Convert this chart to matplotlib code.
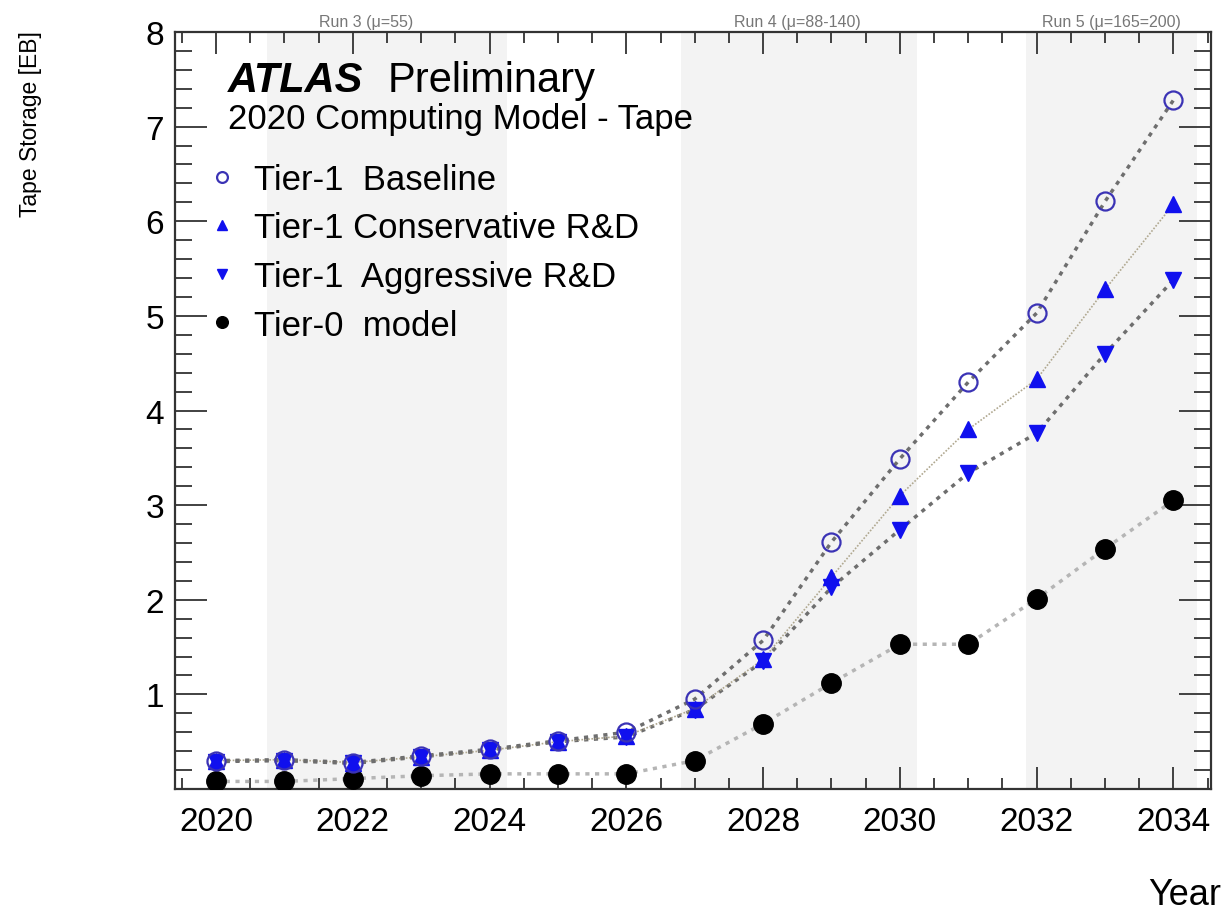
import matplotlib
matplotlib.use("Agg")
import matplotlib.pyplot as plt
from matplotlib.ticker import MultipleLocator

plt.rcParams['font.family'] = ['Liberation Sans', 'DejaVu Sans']

years = list(range(2020, 2035))
baseline = [0.30, 0.31, 0.28, 0.35, 0.42, 0.51, 0.60, 0.95, 1.57, 2.61, 3.49, 4.30, 5.03, 6.21, 7.28]
conservative = [0.30, 0.31, 0.28, 0.34, 0.41, 0.50, 0.56, 0.85, 1.37, 2.24, 3.10, 3.80, 4.33, 5.28, 6.18]
aggressive = [0.29, 0.30, 0.27, 0.34, 0.41, 0.50, 0.55, 0.84, 1.35, 2.13, 2.74, 3.34, 3.76, 4.60, 5.38]
tier0 = [0.08, 0.08, 0.11, 0.14, 0.16, 0.16, 0.16, 0.30, 0.69, 1.12, 1.53, 1.53, 2.01, 2.54, 3.05]

# run periods (shaded) and their labels
run_bands = [(2020.75, 2024.25), (2026.8, 2030.25), (2031.85, 2034.35)]
run_labels = ["Run 3 (\u03bc=55)", "Run 4 (\u03bc=88-140)", "Run 5 (\u03bc=165=200)"]
run_label_x = [2022.2, 2028.5, 2033.1]

fig = plt.figure(figsize=(12.27, 9.2), dpi=100)
ax = fig.add_axes([0.1426, 0.1413, 0.8444, 0.8228])

for (a, b) in run_bands:
    ax.axvspan(a, b, color='#f3f3f3', zorder=0, lw=0)

ax.plot(years, tier0, ls=(0, (1.2, 1.6)), color='#b5b5b5', lw=2.5, zorder=2)
ax.plot(years, aggressive, ls=(0, (1.2, 1.6)), color='#6e6e6e', lw=2.5, zorder=2)
ax.plot(years, conservative, ls=(0, (1, 1)), color='#b0a890', lw=1.2, zorder=2)
ax.plot(years, baseline, ls=(0, (1.2, 1.6)), color='#6e6e6e', lw=2.5, zorder=2)

ax.plot(years, tier0, 'o', color='black', ms=14, ls='none', zorder=3, label='Tier-0  model')
ax.plot(years, aggressive, 'v', color='#1010ee', ms=12, ls='none', zorder=4, label='Tier-1  Aggressive R&D')
ax.plot(years, conservative, '^', color='#1010ee', ms=12, ls='none', zorder=4, label='Tier-1 Conservative R&D')
ax.plot(years, baseline, 'o', mfc='none', mec='#3b33b5', mew=1.6, ms=13, ls='none', zorder=5, label='Tier-1  Baseline')

ax.set_xlim(2019.4, 2034.55)
ax.set_ylim(0, 8)
ax.xaxis.set_major_locator(MultipleLocator(2))
ax.xaxis.set_minor_locator(MultipleLocator(0.5))
ax.yaxis.set_major_locator(MultipleLocator(1))
ax.yaxis.set_minor_locator(MultipleLocator(0.2))
ax.set_yticks([1, 2, 3, 4, 5, 6, 7, 8])
ax.tick_params(axis='both', which='both', direction='in', top=True, right=True, colors='#333333')
ax.tick_params(axis='x', which='major', length=16, width=1.3, labelsize=24, pad=12, labelcolor='black')
ax.tick_params(axis='x', which='minor', length=8, width=1.3)
ax.tick_params(axis='y', which='major', length=23, width=1.3, labelsize=24, pad=8, labelcolor='black')
ax.tick_params(axis='y', which='minor', length=12, width=1.3)
for s in ax.spines.values():
    s.set_linewidth(1.6)
    s.set_color('#333333')

for x, lab in zip(run_label_x, run_labels):
    ax.text(x, 1.004, lab, transform=ax.get_xaxis_transform(), ha='center', va='bottom',
            fontsize=11.5, color='#777777')

ax.text(0.051, 0.922, "ATLAS", transform=ax.transAxes, fontsize=30, fontweight='bold',
        fontstyle='italic', va='baseline')
ax.text(0.2056, 0.922, "Preliminary", transform=ax.transAxes, fontsize=30, va='baseline')
ax.text(0.051, 0.873, "2020 Computing Model - Tape", transform=ax.transAxes, fontsize=25, va='baseline')

h, l = ax.get_legend_handles_labels()
order = [3, 2, 1, 0]
ax.legend([h[i] for i in order], [l[i] for i in order], loc='upper left',
          bbox_to_anchor=(0.029, 0.832), frameon=False, fontsize=25, markerscale=0.6,
          handlelength=0.8, handletextpad=0.5, labelspacing=0.45, borderaxespad=0,
          borderpad=0.1)

fig.text(0.025, 0.966, "Tape Storage [EB]", rotation=90, ha='center', va='top', fontsize=16.5)
fig.text(0.995, 0.016, "Year", ha='right', va='baseline', fontsize=26)

fig.savefig("out.png", dpi=100)
